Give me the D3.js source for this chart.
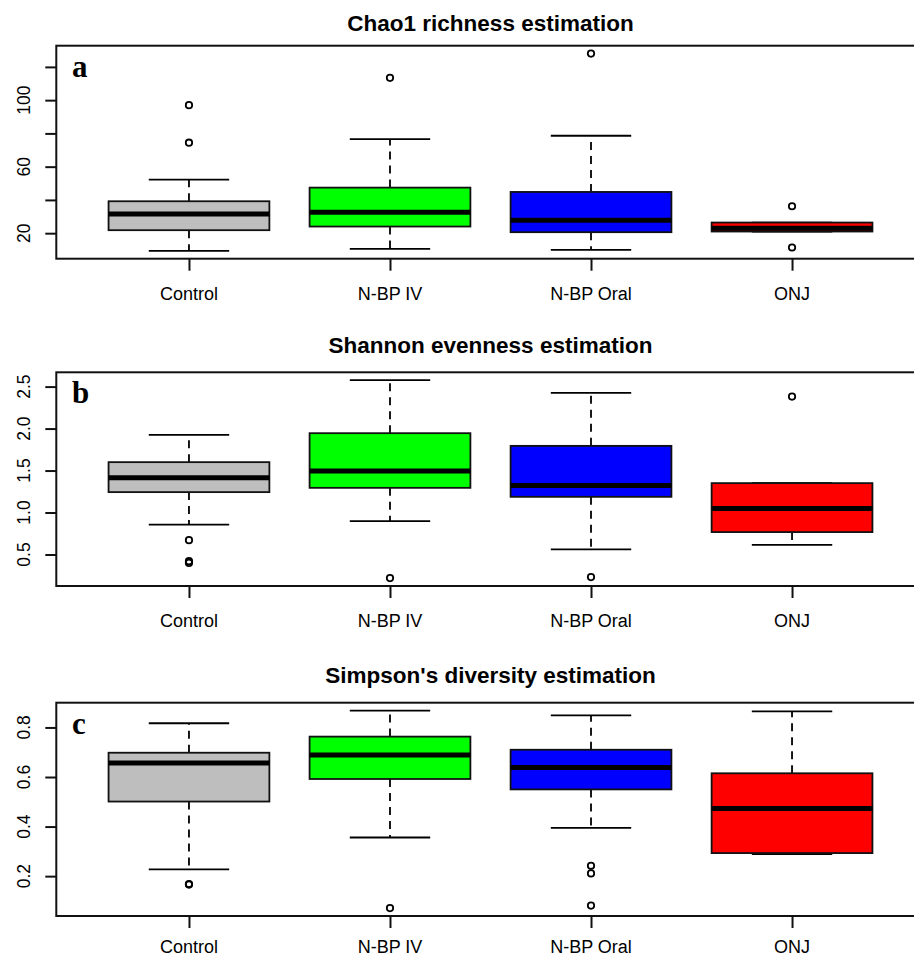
<!DOCTYPE html>
<html>
<head>
<meta charset="utf-8">
<script src="https://cdn.jsdelivr.net/npm/d3@7"></script>
<style>
  body { margin: 0; background: #fff; }
  svg { display: block; }
</style>
</head>
<body>
<div id="chart"></div>
<script>
// groups and fills
const groups = ["Control", "N-BP IV", "N-BP Oral", "ONJ"];
const fills = ["#bebebe", "#00ff00", "#0000ff", "#ff0000"];

// box stats per group: [lower whisker, q1, median, q3, upper whisker]
const chaoStats = [
  [9.4, 21.8, 31.6, 39.2, 52.2],
  [10.6, 24.0, 32.6, 47.4, 76.6],
  [10.0, 20.6, 27.8, 44.8, 78.6],
  [21.0, 21.0, 22.9, 26.4, 26.4]
];
const chaoOut = [[97, 74.4], [113.4], [128], [36.2, 11.4]];
const chaoTicks = [20, 40, 60, 80, 100, 120];
const chaoLabels = [20, 60, 100];

const shannonStats = [
  [0.857, 1.243, 1.413, 1.600, 1.925],
  [0.897, 1.294, 1.496, 1.945, 2.576],
  [0.560, 1.187, 1.321, 1.794, 2.425],
  [0.615, 0.767, 1.048, 1.350, 1.350]
];
const shannonOut = [[0.671, 0.42, 0.40], [0.219], [0.231], [2.381]];
const shannonTicks = [0.5, 1.0, 1.5, 2.0, 2.5];
const shannonLabels = [0.5, 1.0, 1.5, 2.0, 2.5];

const simpsonStats = [
  [0.227, 0.501, 0.657, 0.698, 0.817],
  [0.356, 0.592, 0.689, 0.763, 0.868],
  [0.395, 0.550, 0.638, 0.710, 0.849],
  [0.289, 0.293, 0.473, 0.615, 0.865]
];
const simpsonOut = [[0.166, 0.168], [0.071], [0.242, 0.211, 0.081], []];
const simpsonTicks = [0.2, 0.4, 0.6, 0.8];
const simpsonLabels = [0.2, 0.4, 0.6, 0.8];

const panels = [
  { title: "Chao1 richness estimation", letter: "a", stats: chaoStats, out: chaoOut,
    ticks: chaoTicks, labels: chaoLabels, fmt: d3.format("d"),
    top: 45.7, bottom: 258.7, titleY: 30.5, labY: 299.5 },
  { title: "Shannon evenness estimation", letter: "b", stats: shannonStats, out: shannonOut,
    ticks: shannonTicks, labels: shannonLabels, fmt: d3.format(".1f"),
    top: 372.3, bottom: 586, titleY: 353.3, labY: 626.5 },
  { title: "Simpson's diversity estimation", letter: "c", stats: simpsonStats, out: simpsonOut,
    ticks: simpsonTicks, labels: simpsonLabels, fmt: d3.format(".1f"),
    top: 702.7, bottom: 916, titleY: 683.3, labY: 952.5 }
];

const width = 914, height = 956;
const left = 56.3, right = 924.7;

const svg = d3.select("#chart").append("svg")
  .attr("width", width)
  .attr("height", height)
  .style("font-family", "'Liberation Sans', Arial, sans-serif");

// x like R boxplot: positions 1..n, xlim 0.5..n+0.5 padded 4%
const xlo = 0.5, xhi = groups.length + 0.5, xpad = (xhi - xlo) * 0.04;
const x = d3.scaleLinear().domain([xlo - xpad, xhi + xpad]).range([left, right]);
const unit = x(2) - x(1);

panels.forEach(p => {
  var g = svg.append("g");

  var all = p.stats.flat().concat(p.out.flat());
  var lo = d3.min(all), hi = d3.max(all), pad = (hi - lo) * 0.04;
  var y = d3.scaleLinear().domain([lo - pad, hi + pad]).range([p.bottom, p.top]);

  // title
  g.append("text")
    .attr("x", (left + right) / 2)
    .attr("y", p.titleY)
    .attr("text-anchor", "middle")
    .style("font-weight", "bold")
    .style("font-size", "22.5px")
    .text(p.title);

  // boxes
  var box = g.selectAll("g.box")
    .data(p.stats)
    .enter()
    .append("g")
    .attr("class", "box");

  // whiskers (dashed)
  box.append("line")
    .attr("x1", (d, i) => x(i + 1)).attr("x2", (d, i) => x(i + 1))
    .attr("y1", d => y(d[3])).attr("y2", d => y(d[4]))
    .attr("stroke", "#000").attr("stroke-width", 1.8).attr("stroke-dasharray", "8,6");
  box.append("line")
    .attr("x1", (d, i) => x(i + 1)).attr("x2", (d, i) => x(i + 1))
    .attr("y1", d => y(d[1])).attr("y2", d => y(d[0]))
    .attr("stroke", "#000").attr("stroke-width", 1.8).attr("stroke-dasharray", "8,6");

  // caps
  [0, 4].forEach(k => {
    box.append("line")
      .attr("x1", (d, i) => x(i + 1 - 0.2)).attr("x2", (d, i) => x(i + 1 + 0.2))
      .attr("y1", d => y(d[k])).attr("y2", d => y(d[k]))
      .attr("stroke", "#000").attr("stroke-width", 1.8);
  });

  box.append("rect")
    .attr("x", (d, i) => x(i + 1 - 0.4))
    .attr("width", unit * 0.8)
    .attr("y", d => y(d[3]))
    .attr("height", d => y(d[1]) - y(d[3]))
    .attr("fill", (d, i) => fills[i])
    .attr("stroke", "#111")
    .attr("stroke-width", 1.8);

  // medians
  box.append("line")
    .attr("x1", (d, i) => x(i + 1 - 0.4)).attr("x2", (d, i) => x(i + 1 + 0.4))
    .attr("y1", d => y(d[2])).attr("y2", d => y(d[2]))
    .attr("stroke", "#000").attr("stroke-width", 5);

  // outliers
  p.out.forEach((vals, i) => {
    g.selectAll(null)
      .data(vals)
      .enter()
      .append("circle")
      .attr("cx", x(i + 1))
      .attr("cy", d => y(d))
      .attr("r", 3.2)
      .attr("fill", "none")
      .attr("stroke", "#000")
      .attr("stroke-width", 1.8);
  });

  // frame
  g.append("rect")
    .attr("x", left).attr("y", p.top)
    .attr("width", right - left).attr("height", p.bottom - p.top)
    .attr("fill", "none").attr("stroke", "#111").attr("stroke-width", 2);

  // y axis
  var yAxis = g.append("g")
    .attr("transform", "translate(" + left + ",0)")
    .call(d3.axisLeft(y).tickValues(p.ticks).tickSize(11).tickFormat(""));
  yAxis.select(".domain").remove();
  yAxis.selectAll("line").attr("stroke", "#111").attr("stroke-width", 2);

  g.selectAll("text.ylab")
    .data(p.labels)
    .enter()
    .append("text")
    .attr("class", "ylab")
    .attr("transform", d => "translate(30," + y(d) + ") rotate(-90)")
    .attr("text-anchor", "middle")
    .style("font-size", "17.5px")
    .text(d => p.fmt(d));

  // x axis
  var xAxis = g.append("g")
    .attr("transform", "translate(0," + p.bottom + ")")
    .call(d3.axisBottom(x).tickValues(d3.range(1, groups.length + 1)).tickSize(12).tickFormat(""));
  xAxis.select(".domain").remove();
  xAxis.selectAll("line").attr("stroke", "#111").attr("stroke-width", 2);

  g.selectAll("text.xlab")
    .data(groups)
    .enter()
    .append("text")
    .attr("class", "xlab")
    .attr("x", (d, i) => x(i + 1))
    .attr("y", p.labY)
    .attr("text-anchor", "middle")
    .style("font-size", "18px")
    .text(d => d);

  // panel letter
  g.append("text")
    .attr("x", 72)
    .attr("y", p.top + 31)
    .style("font-family", "'Liberation Serif', 'Times New Roman', serif")
    .style("font-weight", "bold")
    .style("font-size", "31px")
    .text(p.letter);
});
</script>
</body>
</html>
